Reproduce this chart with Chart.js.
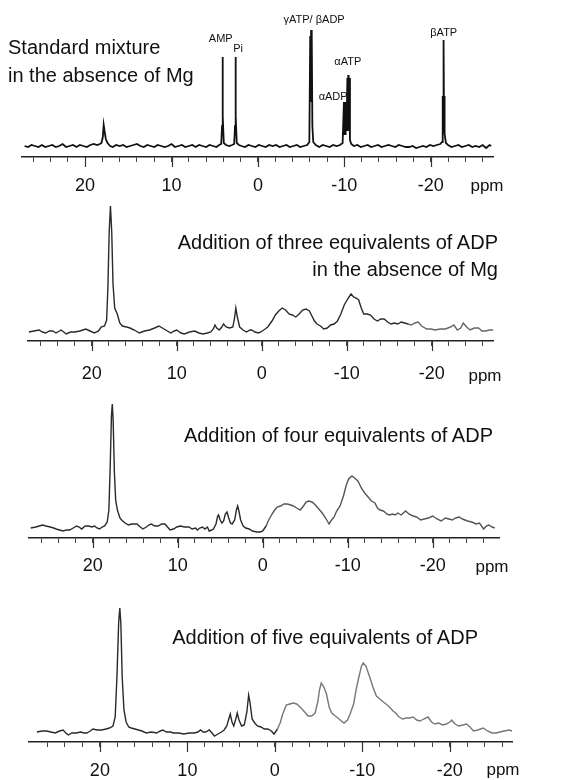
<!DOCTYPE html>
<html>
<head>
<meta charset="utf-8">
<script src="https://cdn.jsdelivr.net/npm/chart.js@4"></script>
<style>
  body { margin: 0; width: 562px; height: 780px; background: #fff; position: relative; overflow: hidden;
         font-family: "Liberation Sans", Arial, Helvetica, sans-serif; color: #111; }
  canvas { position: absolute; left: 0; }
  .titulo { position: absolute; font-size: 20px; white-space: nowrap; }
  .ppm { position: absolute; font-size: 17px; transform: translate(-50%, -50%); }
</style>
</head>
<body>
<canvas id="c1" width="562" height="197" style="top:0px"></canvas>
<canvas id="c2" width="562" height="186" style="top:195px"></canvas>
<canvas id="c3" width="562" height="193" style="top:385px"></canvas>
<canvas id="c4" width="562" height="198" style="top:580px"></canvas>

<div class="titulo" style="left:8px; top:33px; line-height:28px;">Standard mixture<br>in the absence of Mg</div>
<div class="titulo" style="right:64px; top:229px; line-height:27px; text-align:right;">Addition of three equivalents of ADP<br>in the absence of Mg</div>
<div class="titulo" style="right:69px; top:421px; line-height:28px;">Addition of four equivalents of ADP</div>
<div class="titulo" style="right:84px; top:623px; line-height:28px;">Addition of five equivalents of ADP</div>

<div class="ppm" style="left:487px; top:186px;">ppm</div>
<div class="ppm" style="left:485px; top:376px;">ppm</div>
<div class="ppm" style="left:492px; top:567px;">ppm</div>
<div class="ppm" style="left:503px; top:770px;">ppm</div>

<script>
// espectro 1: mezcla estandar sin Mg
const ppm1 = [27.0, 26.6, 26.2, 25.8, 25.4, 25.0, 24.6, 24.2, 23.8, 23.4, 23.0, 22.6, 22.2, 21.8, 21.4, 21.0, 20.6, 20.2, 19.8, 19.4,
  19.0, 18.6, 18.3, 18.1, 17.95, 17.85, 17.75, 17.6, 17.4, 17.1, 16.8, 16.4, 16.0, 15.6, 15.2, 14.8, 14.4, 14.0, 13.6, 13.2,
  12.8, 12.4, 12.0, 11.6, 11.2, 10.8, 10.4, 10.0, 9.6, 9.2, 8.8, 8.4, 8.0, 7.6, 7.2, 6.8, 6.4, 6.0, 5.6, 5.2,
  4.8, 4.5, 4.25, 4.15, 4.1, 4.05, 3.95, 3.7, 3.3, 3.0, 2.75, 2.65, 2.6, 2.55, 2.45, 2.2, 1.9, 1.5, 1.1, 0.7,
  0.3, -0.1, -0.5, -0.9, -1.3, -1.7, -2.1, -2.5, -2.9, -3.3, -3.7, -4.1, -4.5, -4.9, -5.3, -5.7, -5.95, -6.05, -6.1, -6.15,
  -6.2, -6.25, -6.3, -6.4, -6.7, -7.1, -7.5, -7.9, -8.3, -8.7, -9.1, -9.5, -9.8, -9.95, -10.0, -10.05, -10.1, -10.15, -10.25, -10.35,
  -10.4, -10.45, -10.5, -10.55, -10.65, -10.8, -11.1, -11.5, -11.9, -12.3, -12.7, -13.1, -13.5, -13.9, -14.3, -14.7, -15.1, -15.5, -15.9, -16.3,
  -16.7, -17.1, -17.5, -17.9, -18.3, -18.7, -19.1, -19.5, -19.9, -20.3, -20.7, -21.1, -21.3, -21.38, -21.42, -21.46, -21.5, -21.54, -21.58, -21.62,
  -21.75, -22.0, -22.4, -22.8, -23.2, -23.6, -24.0, -24.4, -24.8, -25.2, -25.6, -26.0, -26.4, -26.8, -27.0]
const int1 = [0, -1, 1, 0, -1, 1, -1, 0, 1, -1, 0, 2, -1, 0, 1, -1, 1, 0, -1, 1,
  2, 1, 2, 3, 9, 21, 15, 7, 3, 0, -1, 1, 0, 1, -1, 0, 1, 2, 0, -1,
  1, 0, -1, 1, 0, -1, 0, 2, -1, 0, 1, -1, 0, 1, -1, 1, 0, -1, 1, 0,
  -1, 1, 2, 20, 89, 30, 3, 1, 0, 1, 2, 20, 89, 30, 3, 1, 0, -1, 1, 0,
  -1, 1, 0, -1, 1, 0, 1, -1, 0, 1, -1, 0, 1, -1, 0, 1, 4, 110, 44, 116,
  44, 112, 20, 4, 1, -1, 1, 0, -1, 1, 0, 1, 3, 44, 12, 42, 12, 44, 15, 68,
  15, 71, 15, 68, 6, 2, 0, 1, -1, 0, 1, -1, 0, 1, -1, 0, 1, 0, -1, 1,
  0, -1, -1, 0, -2, -1, 0, -1, 1, 0, 1, 2, 4, 50, 14, 53, 106, 14, 50, 12,
  3, 1, -1, 0, 1, -1, 0, 1, -1, 0, -1, 1, -2, 1, 0]

// espectro 2: tres equivalentes de ADP sin Mg
const ppm2 = [27.4, 26.8, 26.2, 25.8, 25.4, 25.0, 24.6, 24.2, 23.6, 23.0, 22.5, 22.0, 21.4, 20.7, 20.2, 19.7, 19.2, 18.9, 18.5, 18.25,
  18.1, 17.95, 17.8, 17.65, 17.5, 17.3, 17.0, 16.7, 16.4, 15.9, 15.5, 15.0, 14.4, 13.8, 13.2, 12.6, 12.1, 11.7, 11.3, 10.7,
  10.3, 10.0, 9.5, 9.1, 8.5, 7.9, 7.4, 6.9, 6.4, 6.0, 5.7, 5.5, 5.3, 5.0, 4.7, 4.5, 4.2, 3.8, 3.4, 3.2,
  3.05, 2.9, 2.6, 2.2, 1.8, 1.4, 1.2, 0.8, 0.4, 0.1, -0.4, -0.7, -1.2, -1.6, -2.0, -2.4, -2.8, -3.2, -3.6, -4.0,
  -4.4, -4.8, -5.2, -5.6, -5.9, -6.2, -6.5, -6.9, -7.3, -7.7, -8.1, -8.5, -8.9, -9.3, -9.7, -10.1, -10.5, -10.8, -11.1, -11.4,
  -11.7, -12.0, -12.4, -12.8, -13.2, -13.6, -14.0, -14.4, -14.8, -15.2, -15.6, -16.0, -16.4, -16.8, -17.2, -17.6, -18.0, -18.4, -18.8, -19.4,
  -19.9, -20.4, -21.0, -21.6, -22.2, -22.6, -23.0, -23.4, -23.7, -24.1, -24.5, -25.0, -25.5, -25.9, -26.3, -26.8, -27.2]
const int2 = [0, 1, 2, 0, -1, 1, 1, -1, 2, -2, 0, 0, 1, 3, 1, -1, 1, 5, 6, 12,
  45, 100, 126, 100, 48, 24, 18, 9, 6, 5, 4, 2, -1, 1, 2, 4, 6, 4, 2, -1,
  1, 2, -1, -2, 0, 1, -1, -2, -1, 0, 3, 7, 4, 2, 5, 8, 5, 4, 5, 14,
  24, 16, 5, 2, 0, 2, 2, 0, -1, 0, 3, 5, 11, 17, 21, 24, 22, 18, 17, 15,
  18, 22, 23, 21, 16, 11, 8, 6, 3, 4, 7, 8, 11, 18, 27, 33, 38, 35, 34, 32,
  24, 18, 18, 17, 13, 11, 13, 13, 10, 8, 9, 8, 10, 9, 8, 7, 9, 10, 6, 3,
  3, 2, 3, 3, 5, 7, 2, 4, 9, 5, 2, 4, 4, 1, 1, 2, 2]

// espectro 3: cuatro equivalentes de ADP
const ppm3 = [27.3, 26.7, 26.3, 25.9, 25.5, 25.0, 24.6, 24.3, 23.9, 23.5, 23.1, 22.7, 22.3, 21.9, 21.6, 21.3, 20.9, 20.5, 20.1, 19.8,
  19.5, 19.2, 18.9, 18.6, 18.3, 18.1, 17.95, 17.8, 17.7, 17.6, 17.45, 17.3, 17.1, 16.8, 16.6, 16.2, 15.8, 15.4, 14.8, 14.4,
  14.1, 13.7, 13.4, 13.1, 12.7, 12.3, 11.9, 11.5, 11.2, 10.9, 10.5, 10.1, 9.7, 9.2, 8.7, 8.3, 7.9, 7.7, 7.4, 7.1,
  6.8, 6.5, 6.3, 6.0, 5.8, 5.5, 5.3, 5.2, 5.0, 4.8, 4.6, 4.4, 4.2, 4.0, 3.8, 3.6, 3.3, 3.1, 2.95, 2.8,
  2.6, 2.3, 2.0, 1.6, 1.2, 0.7, 0.3, 0.0, -0.4, -0.7, -1.1, -1.4, -1.7, -2.1, -2.5, -2.9, -3.3, -3.6, -4.0, -4.4,
  -4.8, -5.1, -5.4, -5.8, -6.2, -6.6, -7.0, -7.4, -7.8, -8.1, -8.4, -8.7, -9.1, -9.5, -9.8, -10.1, -10.5, -10.8, -11.2, -11.6,
  -12.0, -12.4, -12.8, -13.2, -13.5, -13.8, -14.2, -14.6, -14.9, -15.3, -15.6, -15.9, -16.3, -16.8, -17.2, -17.7, -18.1, -18.6, -19.0, -19.5,
  -20.0, -20.5, -21.0, -21.5, -21.9, -22.3, -22.7, -23.1, -23.5, -24.1, -24.6, -25.1, -25.5, -26.0, -26.3, -26.6, -27.0, -27.3]
const int3 = [0, 1, 2, 3, 2, 1, 0, -1, -2, -3, -2, -2, 0, 2, 1, -1, 2, 2, 1, 2,
  0, -1, 1, 2, 6, 18, 60, 112, 124, 108, 55, 28, 18, 10, 8, 5, 3, 4, 4, 1,
  -1, 1, 3, 4, 2, 2, 4, 4, 1, -2, -1, 1, 2, 1, 1, -1, 0, -2, 0, 1,
  -1, 1, -3, -2, -1, 4, 12, 13, 8, 5, 7, 14, 16, 10, 5, 4, 8, 18, 22, 17,
  8, 2, 0, -1, -3, -4, -4, -3, 2, 8, 14, 18, 21, 22, 24, 24, 23, 22, 20, 18,
  22, 26, 27, 26, 23, 19, 15, 10, 4, 8, 11, 17, 22, 32, 42, 49, 52, 50, 47, 40,
  35, 31, 27, 25, 20, 18, 17, 14, 13, 14, 13, 15, 13, 17, 14, 12, 11, 8, 9, 10,
  12, 9, 7, 10, 9, 8, 10, 11, 9, 7, 6, 4, 5, -1, 2, 3, 1, 0]

// espectro 4: cinco equivalentes de ADP
const ppm4 = [27.2, 26.6, 26.1, 25.6, 25.1, 24.6, 24.2, 23.9, 23.6, 23.2, 22.7, 22.2, 21.8, 21.5, 21.1, 20.8, 20.3, 19.8, 19.3, 18.9,
  18.5, 18.25, 18.05, 17.85, 17.72, 17.6, 17.45, 17.25, 17.0, 16.7, 16.4, 16.0, 15.6, 15.2, 14.7, 14.1, 13.5, 13.1, 12.8, 12.4,
  11.9, 11.6, 11.0, 10.4, 9.8, 9.2, 8.8, 8.5, 8.2, 7.9, 7.5, 7.2, 6.9, 6.5, 6.1, 5.8, 5.5, 5.3, 5.1, 4.9,
  4.7, 4.5, 4.3, 4.1, 3.8, 3.5, 3.2, 3.0, 2.85, 2.6, 2.3, 2.0, 1.6, 1.2, 0.8, 0.4, 0.1, -0.3, -0.6, -0.9,
  -1.3, -1.7, -2.1, -2.5, -3.0, -3.4, -3.8, -4.2, -4.6, -4.9, -5.1, -5.3, -5.6, -5.9, -6.2, -6.5, -6.9, -7.2, -7.6, -7.9,
  -8.3, -8.6, -9.0, -9.3, -9.6, -9.9, -10.1, -10.4, -10.8, -11.2, -11.6, -12.0, -12.4, -12.7, -13.1, -13.5, -13.8, -14.2, -14.6, -15.0,
  -15.4, -15.8, -16.2, -16.6, -17.0, -17.5, -17.9, -18.3, -18.7, -19.2, -19.6, -20.0, -20.2, -20.6, -21.0, -21.5, -21.9, -22.3, -22.7, -23.2,
  -23.8, -24.3, -24.8, -25.3, -25.7, -26.2, -26.8, -27.1]
const int4 = [0, 1, 1, 0, -1, 1, 2, -1, -3, -1, -1, 0, -1, -1, 1, 3, 2, 2, 3, 4,
  6, 15, 55, 110, 124, 108, 55, 22, 10, 5, 4, 3, 2, 1, -1, 0, -1, 1, 2, 0,
  0, -1, -1, -2, -1, -1, 0, 2, 0, 0, 2, -1, -4, -2, 0, 2, 6, 12, 18, 10,
  6, 12, 19, 12, 6, 7, 20, 37, 30, 13, 9, 6, 5, 3, 3, 1, -2, 3, 9, 18,
  27, 28, 29, 28, 24, 20, 16, 16, 19, 30, 42, 49, 45, 38, 25, 19, 16, 14, 11, 9,
  12, 18, 28, 43, 55, 66, 69, 66, 56, 45, 36, 33, 30, 28, 25, 21, 19, 15, 13, 14,
  14, 15, 12, 11, 13, 15, 10, 8, 9, 7, 8, 10, 12, 8, 6, 7, 8, 5, 1, 2,
  4, 1, -1, -1, 0, 1, 2, 1]

// eje x: marcas cada 2 ppm, numeros cada 10
const marcasEje = [26, 24, 22, 20, 18, 16, 14, 12, 10, 8, 6, 4, 2, 0, -2, -4, -6, -8, -10, -12, -14, -16, -18, -20, -22, -24, -26]
const etiquetasEje = [20, 10, 0, -10, -20]

// nombres de los picos del espectro 1
const picosTexto = ['AMP', 'Pi', 'γATP/ βADP', 'αADP', 'αATP', 'βATP']
const picosPpm = [4.3, 2.3, -6.5, -8.7, -10.4, -21.5]
const picosAltura = [107, 97, 126, 49, 84, 113]

const FUENTE = '"Liberation Sans", Arial, Helvetica, sans-serif'

const ticksMayores = {
  id: 'ticksMayores',
  afterDraw(chart) {
    const eje = chart.scales.x
    const ctx = chart.ctx
    ctx.save()
    ctx.strokeStyle = '#333'
    ctx.lineWidth = 1.2
    etiquetasEje.forEach(v => {
      const px = Math.round(eje.getPixelForValue(v)) + 0.5
      ctx.beginPath()
      ctx.moveTo(px, eje.top)
      ctx.lineTo(px, eje.top + 10)
      ctx.stroke()
    })
    ctx.restore()
  }
}

const nombresPicos = {
  id: 'nombresPicos',
  afterDatasetsDraw(chart) {
    const ctx = chart.ctx
    ctx.save()
    ctx.font = '11px ' + FUENTE
    ctx.fillStyle = '#111'
    ctx.textAlign = 'center'
    ctx.textBaseline = 'middle'
    picosTexto.forEach((t, i) => {
      ctx.fillText(t, chart.scales.x.getPixelForValue(picosPpm[i]), chart.scales.y.getPixelForValue(picosAltura[i]))
    })
    ctx.restore()
  }
}

function crearGrafico (id, ppm, intensidad, cfg) {

  const datasets = [{
    data: ppm.map((x, i) => ({ x, y: intensidad[i] })),
    borderColor: cfg.color,
    borderWidth: cfg.grosor,
    pointRadius: 0,
    tension: 0,
    segment: {
      borderColor: ctx => ctx.p0.parsed.x < cfg.corte ? cfg.colorClaro : cfg.color
    }
  }]

  const config = {
    type: 'line',
    data: { datasets },
    options: {
      animation: false,
      responsive: false,
      layout: { padding: { left: cfg.izq, right: cfg.der, top: 0, bottom: 0 } },
      plugins: { legend: { display: false }, tooltip: { enabled: false } },
      scales: {
        x: {
          type: 'linear',
          reverse: true,
          min: cfg.min,
          max: cfg.max,
          afterBuildTicks: eje => { eje.ticks = marcasEje.map(v => ({ value: v })) },
          afterFit: eje => { eje.height = cfg.altoEje },
          ticks: {
            autoSkip: false,
            maxRotation: 0,
            padding: cfg.sep,
            color: '#111',
            font: { family: FUENTE, size: 18 },
            callback: v => etiquetasEje.includes(v) ? String(v) : ''
          },
          grid: { drawOnChartArea: false, tickLength: 5, tickColor: '#444', tickWidth: 1 },
          border: { color: '#222', width: 1.5 }
        },
        y: { display: false, min: cfg.ymin, max: cfg.ymax }
      }
    },
    plugins: cfg.picos ? [ticksMayores, nombresPicos] : [ticksMayores]
  }

  return new Chart(document.getElementById(id), config)
}

crearGrafico('c1', ppm1, int1, { min: -27.2, max: 27.3, izq: 22, der: 69, ymin: -11, ymax: 146, altoEje: 40, sep: 13,
  color: '#111', colorClaro: '#111', corte: -99, grosor: 1.8, picos: true })
crearGrafico('c2', ppm2, int2, { min: -27.2, max: 27.5, izq: 28, der: 69, ymin: -9, ymax: 137, altoEje: 40, sep: 17,
  color: '#2a2a2a', colorClaro: '#666', corte: -17, grosor: 1.4 })
crearGrafico('c3', ppm3, int3, { min: -27.8, max: 27.5, izq: 29, der: 63, ymin: -10, ymax: 143, altoEje: 40, sep: 12,
  color: '#2a2a2a', colorClaro: '#555', corte: 0, grosor: 1.4 })
crearGrafico('c4', ppm4, int4, { min: -27.1, max: 28.1, izq: 29, der: 50, ymin: -10, ymax: 152, altoEje: 36, sep: 13,
  color: '#2a2a2a', colorClaro: '#777', corte: 0, grosor: 1.4 })
</script>
</body>
</html>
